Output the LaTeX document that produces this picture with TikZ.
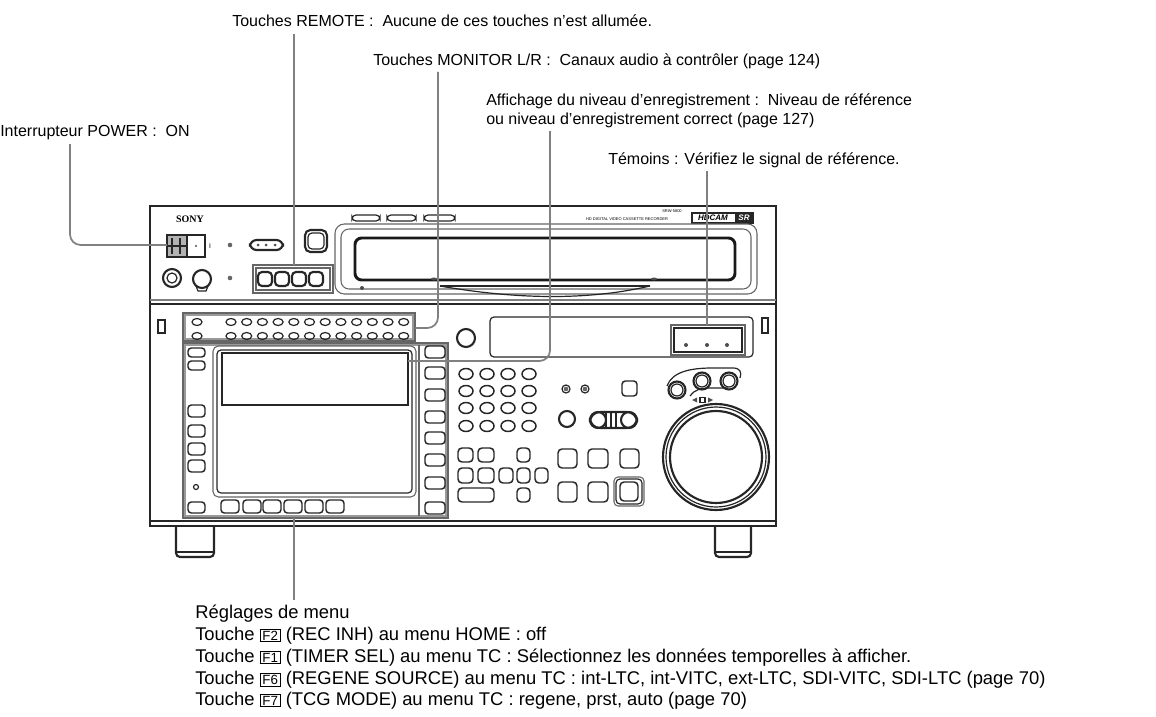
\documentclass[tikz,border=0pt]{standalone}
\usepackage{fontspec}
\setmainfont{Liberation Sans}
\newfontfamily\serifb{Liberation Serif}
\newcommand\kbox[1]{\setlength\fboxsep{0.8pt}\setlength\fboxrule{0.55pt}\raisebox{-0.3pt}{\fbox{\makebox[13pt]{\fontsize{10}{10}\selectfont #1}}}}
\begin{document}
\begin{tikzpicture}[x=0.75pt,y=-0.75pt,
 dev/.style={line width=0.9pt,black!85},
 pan/.style={line width=0.8pt,black!60},
 thick dev/.style={line width=1.6pt,black!85},
 btn/.style={line width=1.1pt,black!85,rounded corners=2.5},
 leader/.style={line width=1.3pt,black!50,rounded corners=8},
 lbl/.style={anchor=base west,inner sep=0,font=\fontsize{12}{14}\selectfont},
 blbl/.style={anchor=base west,inner sep=0,font=\fontsize{13.8}{16}\selectfont}]
\useasboundingbox (0,0) rectangle (1156,717);

% ---------- labels ----------
\node[lbl] (remote) at (232,27) {Touches REMOTE :\ \ Aucune de ces touches n'est allumée.};
\node[lbl] (monitor) at (373,65) {Touches MONITOR L/R :\ \ Canaux audio à contrôler (page 124)};
\node[lbl] (rec1) at (486,105) {Affichage du niveau d'enregistrement :\ \ Niveau de référence};
\node[lbl] (rec2) at (486,124) {ou niveau d'enregistrement correct (page 127)};
\node[lbl] (power) at (0,137) {Interrupteur POWER :\ \ ON};
\node[lbl] (temoins) at (608,164) {Témoins : Vérifiez le signal de référence.};
\node[blbl] (menu) at (195,618) {Réglages de menu};
\node[blbl] (m1) at (195,640) {Touche \kbox{F2} (REC INH) au menu HOME : off};
\node[blbl] (m2) at (195,662) {Touche \kbox{F1} (TIMER SEL) au menu TC : Sélectionnez les données temporelles à afficher.};
\node[blbl] (m3) at (195,684) {Touche \kbox{F6} (REGENE SOURCE) au menu TC : int-LTC, int-VITC, ext-LTC, SDI-VITC, SDI-LTC (page 70)};
\node[blbl] (m4) at (195,705) {Touche \kbox{F7} (TCG MODE) au menu TC : regene, prst, auto (page 70)};

% ---------- device body ----------
\draw[thick dev] (150,206) rectangle (776,526);
\draw[dev] (150,521) -- (776,521);
\draw[dev,black!50] (150,300) -- (776,300);
\draw[thick dev] (150,304) -- (776,304);
% top unit
\node[inner sep=0] (sony) at (190,219) {\serifb\bfseries\fontsize{7.5}{8}\selectfont SONY};
\foreach \a/\b in {352/380,387/416,424/455}
  \draw[dev,rounded corners=3] (\a,215) rectangle (\b,221);
\node[inner sep=0,font=\fontsize{3}{3}\selectfont] (mdl) at (672,211) {SRW-5800};
\node[inner sep=0,font=\fontsize{3}{3}\selectfont] (hdv) at (627,219) {HD DIGITAL VIDEO CASSETTE RECORDER};
\draw[dev] (692,213) rectangle (753,223);
\fill[black!85] (735,213) rectangle (753,223);
\node[inner sep=0,font=\fontsize{6}{6}\selectfont\itshape\bfseries] (hdc) at (713,218) {HDCAM};
\node[inner sep=0,font=\fontsize{6}{6}\selectfont\itshape\bfseries,text=white] (sr) at (744,218) {SR};
% power switch
\draw[thick dev] (167,235) rectangle (205,257);
\fill[black!30] (168,236) rectangle (187,256);
\draw[dev] (172,238) -- (172,254) (180,238) -- (180,254) (187,236) -- (187,256) (168,246) -- (187,246);
\fill[black!70] (196,246) circle (1.2);
\node[inner sep=0,font=\fontsize{5}{5}\selectfont] (pi) at (210,246) {I};
\fill[black!60] (230,245) circle (2.3);
\draw[thick dev,rounded corners=5] (250,240) rectangle (283,250);
\foreach \x in {258,266,275} \fill[black!70] (\x,245) circle (1.5);
\draw[thick dev] (172,278) circle (9);
\draw[dev] (172,278) circle (5);
\draw[thick dev] (202,279) circle (9);
\draw[dev] (196,286) -- (198,291) -- (206,291) -- (208,286);
\fill[black!60] (230,278) circle (2.3);
\draw[pan] (253,265) rectangle (333,293);
\draw[pan] (256,268) rectangle (330,290);
\foreach \x in {265,282,299,316} \draw[thick dev,rounded corners=3] (\x-7,272) rectangle (\x+7,286);
\draw[thick dev,rounded corners=4] (305,230) rectangle (327,252);
\draw[dev,rounded corners=3] (308,233) rectangle (324,249);
% tape slot
\draw[pan,rounded corners=7] (335,224) rectangle (757,294);
\draw[pan,rounded corners=6] (341,229) rectangle (751,289);
\draw[line width=2.2pt,black!90,rounded corners=5] (355,238) rectangle (735,280);
\draw[dev] (440,286) .. controls (520,300) and (590,300) .. (650,286);
\draw[dev] (440,286) -- (650,286);
\fill[black!70] (362,288) circle (2);
\fill[black!70] (434,279) ellipse (3 and 1.5);
\fill[black!70] (654,279) ellipse (3 and 1.5);

% ---------- lower unit ----------
\draw[dev] (158,320) rectangle (165,333);
\draw[dev] (762,318) rectangle (768,333);
\draw[pan] (183,313) rectangle (415,341);
\draw[pan,black!40] (185,315) rectangle (413,339);
\foreach \y in {322,336} {
  \draw[dev] (197,\y) ellipse (5 and 3.5);
  \foreach \k in {0,...,11} \draw[dev] (231+15.7*\k,\y) ellipse (5 and 3.5);
}
% menu panel
\draw[pan] (183,343) rectangle (448,518);
\draw[pan,black!40] (185,345) rectangle (446,516);
\foreach \a/\b in {348/357,361/370,405/417,425/437,443/455,460/472,502/513}
  \draw[btn] (188,\a) rectangle (205,\b);
\draw[dev] (196,487) circle (2.5);
\foreach \c in {352,373,395,417,438,460,483,508}
  \draw[btn] (425,\c-6) rectangle (445,\c+6);
\foreach \c in {230,252,272,293,314,335}
  \draw[btn] (\c-9,500) rectangle (\c+9,513);
\draw[pan,rounded corners=4] (213,346) rectangle (416,497);
\draw[dev,rounded corners=3] (217,350) rectangle (412,493);
\draw[dev] (222,353) rectangle (408,405);
\draw[pan] (419,345) -- (419,516);
% middle
\draw[thick dev] (466,338) circle (9);
\draw[dev,rounded corners=3] (490,317) rectangle (753,357);
\draw[pan] (671,325) rectangle (745,355);
\draw[dev] (674,328) rectangle (742,352);
\foreach \x in {686,707,727} \fill[black!70] (\x,345) circle (2);
\foreach \x in {466,487,508,529} \foreach \y in {374,391,408,426}
  \draw[btn] (\x,\y) ellipse (7 and 5.5);
\foreach \x in {566,585} {\draw[dev] (\x,389) circle (4); \fill[black!60] (\x,389) circle (2.3);}
\draw[btn] (622,381) rectangle (637,396);
\draw[thick dev] (567,419) circle (8);
\draw[thick dev,rounded corners=7.5] (590,412) rectangle (637,428);
\draw[thick dev] (598,420) circle (8);
\draw[thick dev] (629,420) circle (8);
\draw[dev] (606,413) -- (606,427) (611,413) -- (611,427) (616,413) -- (616,427);
\foreach \a/\b in {558/577,588/608,620/639} \draw[btn,rounded corners=3] (\a,449) rectangle (\b,468);
\foreach \a/\b in {558/577,588/608} \draw[btn,rounded corners=3] (\a,482) rectangle (\b,502);
\draw[pan,rounded corners=3] (614,477) rectangle (644,506);
\draw[dev,rounded corners=3] (616,479) rectangle (642,504);
\draw[btn,rounded corners=3] (620,482) rectangle (638,501);
\foreach \a/\b in {458/473,478/494,517/530} \draw[btn,rounded corners=3] (\a,448) rectangle (\b,462);
\foreach \a/\b in {458/473,478/494,499/513,517/530,535/548} \draw[btn,rounded corners=3] (\a,468) rectangle (\b,483);
\draw[btn,rounded corners=3] (458,488) rectangle (494,502);
\draw[btn,rounded corners=3] (517,488) rectangle (530,502);
% shuttle buttons
\draw[dev] (667,386) .. controls (672,372) and (690,368) .. (712,368) -- (733,368) .. controls (740,368) and (742,372) .. (740,378);
\draw[dev] (690,396) .. controls (694,390) and (700,388) .. (712,388) -- (728,388);
\foreach \x/\y in {677/390,702/381,729/381} {\draw[thick dev] (\x,\y) circle (8.5); \draw[dev] (\x,\y) circle (6);}
\fill[black!70] (692,400) -- (697,397.5) -- (697,402.5) -- cycle;
\draw[dev] (700,397.5) rectangle (705,402.5);
\fill[black!70] (713,400) -- (708,397.5) -- (708,402.5) -- cycle;
% jog
\draw[thick dev] (716,457) circle (53);
\draw[dev] (716,457) circle (50);
\draw[thick dev] (716,457) circle (46);
% feet
\foreach \a/\b in {176/214,715/751} {
  \draw[thick dev,rounded corners=3] (\a,527) -- (\a,557) -- (\b,557) -- (\b,527);
  \draw[dev] (\a,552) -- (\b,552);
}

% ---------- leaders ----------
\coordinate (remoteT) at (294,34);   \coordinate (remoteB) at (294,265);
\coordinate (monT) at (438,72);      \coordinate (monB) at (415,328);
\coordinate (recT) at (550,131);     \coordinate (recB) at (408,361);
\coordinate (temT) at (707,171);     \coordinate (temB) at (707,325);
\coordinate (powT) at (70,144);      \coordinate (powB) at (167,245);
\coordinate (menuT) at (294,518);    \coordinate (menuB) at (294,600);
\draw[leader] (remoteT) -- (remoteB);
\draw[leader] (monT) |- (monB);
\draw[leader] (recT) |- (recB);
\draw[leader] (temT) -- (temB);
\draw[leader] (powT) |- (powB);
\draw[leader] (menuT) -- (menuB);
\end{tikzpicture}
\end{document}
